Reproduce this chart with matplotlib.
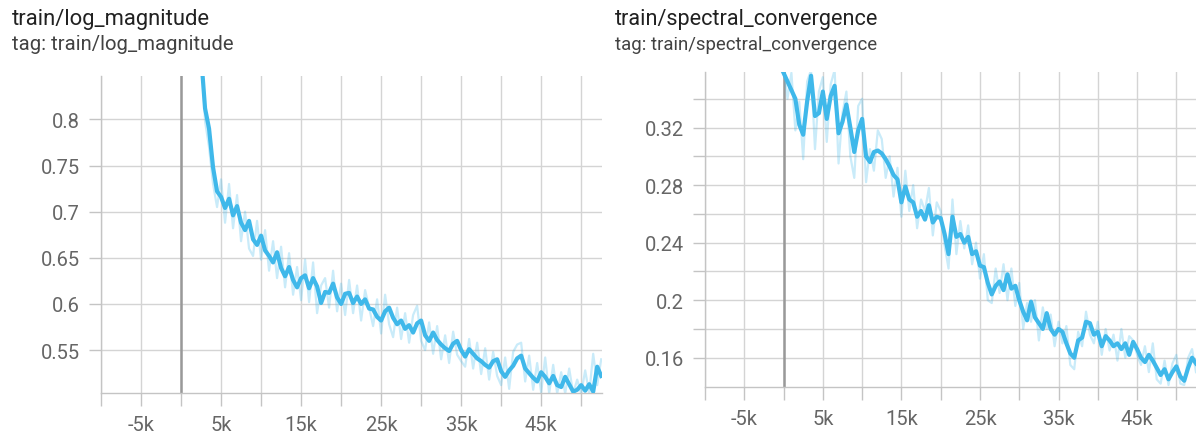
import matplotlib
matplotlib.use("Agg")
import matplotlib.pyplot as plt
from matplotlib.ticker import FixedLocator, FuncFormatter

plt.rcParams['font.family'] = ['Roboto', 'DejaVu Sans']

# ---------------- data ----------------
left_title = "train/log_magnitude"
left_tag = "tag: train/log_magnitude"
right_title = "train/spectral_convergence"
right_tag = "tag: train/spectral_convergence"

left_steps = list(range(2500, 53000, 500))
left_smooth = [
    0.870, 0.812, 0.790, 0.748, 0.722, 0.716, 0.704, 0.714, 0.696, 0.706,
    0.688, 0.680, 0.690, 0.670, 0.664, 0.674, 0.658, 0.652, 0.645, 0.656,
    0.639, 0.630, 0.640, 0.626, 0.618, 0.628, 0.631, 0.617, 0.628, 0.619,
    0.601, 0.613, 0.612, 0.622, 0.607, 0.600, 0.611, 0.612, 0.601, 0.608,
    0.600, 0.605, 0.595, 0.594, 0.586, 0.582, 0.592, 0.596, 0.585, 0.578,
    0.582, 0.573, 0.577, 0.569, 0.579, 0.582, 0.566, 0.560, 0.569, 0.561,
    0.556, 0.552, 0.549, 0.557, 0.560, 0.550, 0.543, 0.551, 0.546, 0.541,
    0.538, 0.534, 0.531, 0.538, 0.540, 0.527, 0.521, 0.528, 0.533, 0.541,
    0.544, 0.530, 0.525, 0.520, 0.516, 0.526, 0.521, 0.514, 0.522, 0.512,
    0.510, 0.521, 0.513, 0.505, 0.507, 0.512, 0.506, 0.513, 0.505, 0.532,
    0.522,
]
left_raw = [
    0.885, 0.798, 0.770, 0.730, 0.705, 0.735, 0.688, 0.730, 0.682, 0.718,
    0.668, 0.700, 0.660, 0.652, 0.690, 0.648, 0.680, 0.636, 0.668, 0.628,
    0.662, 0.618, 0.655, 0.610, 0.640, 0.604, 0.648, 0.602, 0.645, 0.590,
    0.620, 0.628, 0.596, 0.636, 0.592, 0.622, 0.588, 0.626, 0.590, 0.620,
    0.582, 0.615, 0.596, 0.576, 0.605, 0.568, 0.610, 0.578, 0.564, 0.596,
    0.562, 0.590, 0.558, 0.588, 0.598, 0.560, 0.550, 0.580, 0.546, 0.576,
    0.540, 0.566, 0.536, 0.570, 0.545, 0.538, 0.532, 0.562, 0.530, 0.558,
    0.524, 0.552, 0.518, 0.548, 0.522, 0.512, 0.542, 0.508, 0.548, 0.556,
    0.558, 0.516, 0.544, 0.507, 0.536, 0.504, 0.542, 0.503, 0.534, 0.503,
    0.526, 0.503, 0.530, 0.503, 0.518, 0.503, 0.528, 0.503, 0.546, 0.512,
    0.540,
]

right_steps = list(range(0, 53000, 500))
right_smooth = [
    0.358, 0.352, 0.346, 0.340, 0.322, 0.315, 0.338, 0.356, 0.328, 0.330,
    0.345, 0.326, 0.342, 0.349, 0.316, 0.324, 0.336, 0.320, 0.303, 0.318,
    0.326, 0.300, 0.296, 0.303, 0.304, 0.302, 0.298, 0.293, 0.287, 0.284,
    0.268, 0.279, 0.270, 0.268, 0.258, 0.262, 0.256, 0.266, 0.254, 0.258,
    0.257, 0.246, 0.232, 0.258, 0.244, 0.246, 0.240, 0.244, 0.232, 0.234,
    0.224, 0.223, 0.212, 0.204, 0.210, 0.213, 0.207, 0.218, 0.208, 0.210,
    0.200, 0.192, 0.186, 0.199, 0.188, 0.184, 0.180, 0.191, 0.180, 0.176,
    0.180, 0.178, 0.170, 0.163, 0.160, 0.172, 0.174, 0.185, 0.184, 0.176,
    0.178, 0.168, 0.175, 0.172, 0.168, 0.170, 0.166, 0.170, 0.162, 0.171,
    0.166, 0.160, 0.157, 0.162, 0.158, 0.153, 0.148, 0.152, 0.145, 0.150,
    0.154, 0.147, 0.144, 0.153, 0.160, 0.156,
]
right_raw = [
    0.362, 0.340, 0.358, 0.318, 0.338, 0.298, 0.352, 0.360, 0.305, 0.345,
    0.355, 0.310, 0.350, 0.360, 0.295, 0.330, 0.345, 0.300, 0.285, 0.335,
    0.340, 0.282, 0.305, 0.290, 0.318, 0.312, 0.285, 0.300, 0.272, 0.292,
    0.258, 0.290, 0.262, 0.280, 0.250, 0.270, 0.262, 0.278, 0.245, 0.268,
    0.262, 0.238, 0.222, 0.270, 0.232, 0.255, 0.236, 0.252, 0.225, 0.240,
    0.215, 0.232, 0.200, 0.198, 0.222, 0.205, 0.225, 0.200, 0.222, 0.196,
    0.212, 0.180, 0.198, 0.185, 0.200, 0.172, 0.195, 0.180, 0.190, 0.168,
    0.185, 0.170, 0.182, 0.155, 0.152, 0.178, 0.168, 0.192, 0.176, 0.170,
    0.185, 0.162, 0.180, 0.165, 0.176, 0.158, 0.180, 0.160, 0.175, 0.172,
    0.162, 0.155, 0.168, 0.150, 0.170, 0.145, 0.142, 0.158, 0.141, 0.156,
    0.162, 0.142, 0.141, 0.160, 0.166, 0.150,
]

left_yticks = [0.55, 0.6, 0.65, 0.7, 0.75, 0.8]
right_yticks = [0.16, 0.18, 0.2, 0.22, 0.24, 0.26, 0.28, 0.30, 0.32, 0.34]
right_ylabels = [0.16, 0.2, 0.24, 0.28, 0.32]
xticks = list(range(-10000, 55000, 5000))
xlabels = [-5000, 5000, 15000, 25000, 35000, 45000]

# ---------------- style ----------------
W, H = 1196, 435
fig = plt.figure(figsize=(W / 100, H / 100), dpi=100)

LINE = '#3fb8ea'
GRID = '#d4d4d4'
ZERO = '#999999'
TICKC = '#666666'
AXC = '#c4c4c4'


def px_axes(x0, y0, x1, y1):
    return fig.add_axes([x0 / W, 1 - y1 / H, (x1 - x0) / W, (y1 - y0) / H])


def yfmt(v):
    return f"{v:.2f}".rstrip('0').rstrip('.')


def style(ax, yticks, ylabels, xlim, ylim, fs):
    ax.set_xlim(*xlim)
    ax.set_ylim(*ylim)
    ax.xaxis.set_major_locator(FixedLocator(xticks))
    ax.xaxis.set_major_formatter(FuncFormatter(
        lambda v, p: (f"{int(round(v / 1000))}k" if int(round(v)) in xlabels else "")))
    ax.yaxis.set_major_locator(FixedLocator(yticks))
    lab = [round(v, 3) for v in ylabels]
    ax.yaxis.set_major_formatter(FuncFormatter(
        lambda v, p: (yfmt(v) if round(v, 3) in lab else "")))
    ax.grid(True, color=GRID, lw=1.0)
    for s in ['top', 'right']:
        ax.spines[s].set_visible(False)
    for s in ['left', 'bottom']:
        ax.spines[s].set_color(AXC)
        ax.spines[s].set_linewidth(1.0)
    ax.tick_params(axis='both', direction='out', length=9, width=1.0,
                   color=AXC, labelcolor=TICKC, labelsize=fs)
    ax.tick_params(axis='y', pad=6)
    ax.tick_params(axis='x', pad=7)
    ax.axvline(0, color=ZERO, lw=1.8, zorder=1.5)
    ax.set_axisbelow(True)


axL = px_axes(101, 77, 602, 394)
style(axL, left_yticks, left_yticks, (-10000, 52600), (0.5035, 0.847), 14.5)
axL.plot(left_steps, left_raw, color=LINE, alpha=0.28, lw=1.6, zorder=2)
axL.plot(left_steps, left_smooth, color=LINE, lw=3.0, zorder=3)

axR = px_axes(705, 73, 1196, 387.5)
style(axR, right_yticks, right_ylabels, (-10000, 52500), (0.14, 0.3586), 14.5)
axR.plot(right_steps, right_raw, color=LINE, alpha=0.28, lw=1.6, zorder=2)
axR.plot(right_steps, right_smooth, color=LINE, lw=3.0, zorder=3)

fig.text(12 / W, 1 - 25 / H, left_title, fontsize=15.8, color='#212121', va='baseline')
fig.text(12 / W, 1 - 50 / H, left_tag, fontsize=14.6, color='#424242', va='baseline')
fig.text(615 / W, 1 - 25 / H, right_title, fontsize=15.6, color='#212121', va='baseline')
fig.text(615 / W, 1 - 50 / H, right_tag, fontsize=13.4, color='#424242', va='baseline')

fig.savefig("out.png", dpi=100)
